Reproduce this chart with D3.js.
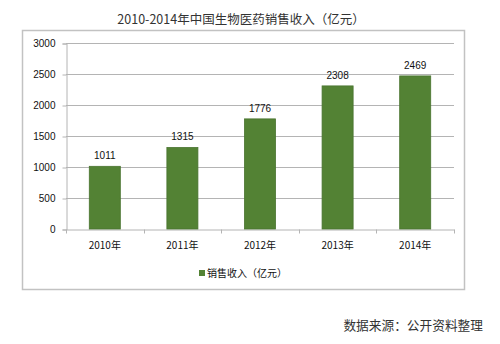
<!DOCTYPE html>
<html>
<head>
<meta charset="utf-8">
<script src="https://cdn.jsdelivr.net/npm/d3@7"></script>
<style>
  html, body { margin: 0; padding: 0; background: #fff; }
  svg { display: block; }
</style>
</head>
<body>
<svg id="chart" width="500" height="344"></svg>
<script>
// Biopharma sales revenue in China, 2010-2014 (100 million yuan)
const years = ["2010年", "2011年", "2012年", "2013年", "2014年"];
const revenue = [1011, 1315, 1776, 2308, 2469];
const yTicks = [0, 500, 1000, 1500, 2000, 2500, 3000];
const titleText = "2010-2014年中国生物医药销售收入（亿元）";
const legendText = "销售收入（亿元）";
const sourceText = "数据来源：公开资料整理";

const svg = d3.select("#chart");
const barColor = "#538234";
const gridColor = "#b4b4b4";
const latin = "'Liberation Sans', Arial, sans-serif";
const cjk = "'Noto Sans CJK SC', sans-serif";

// Outer chart frame
svg.append("rect")
  .attr("x", 22.5).attr("y", 30.5)
  .attr("width", 442).attr("height", 259)
  .attr("fill", "#fff")
  .attr("stroke", "#c2c2c2")
  .attr("stroke-width", 1.5);

// Title
svg.append("text")
  .attr("x", 241).attr("y", 24)
  .attr("text-anchor", "middle")
  .attr("font-family", cjk)
  .attr("font-size", 12.5)
  .attr("fill", "#333")
  .text(titleText);

const x = d3.scaleBand().domain(years).range([66, 454]).padding(0);
const y = d3.scaleLinear().domain([0, 3000]).range([229, 43]);

// Horizontal gridlines
svg.append("g")
  .selectAll("line")
  .data(yTicks.filter(d => d > 0))
  .join("line")
  .attr("x1", 66).attr("x2", 454)
  .attr("y1", d => Math.round(y(d)) + 0.5)
  .attr("y2", d => Math.round(y(d)) + 0.5)
  .attr("stroke", gridColor)
  .attr("stroke-width", 1);

// Y axis
const yAxis = svg.append("g")
  .attr("transform", "translate(66.5,0.5)")
  .call(d3.axisLeft(y).tickValues(yTicks).tickFormat(d3.format("d")).tickSize(4).tickPadding(7));
yAxis.select(".domain").attr("stroke", gridColor);
yAxis.selectAll(".tick line").attr("stroke", gridColor);
yAxis.selectAll(".tick text")
  .attr("font-family", latin)
  .attr("font-size", 10)
  .attr("fill", "#111");

// X axis with tick marks at category boundaries
const xAxis = svg.append("g")
  .attr("transform", "translate(0,229.5)")
  .call(d3.axisBottom(x).tickSize(0).tickPadding(12));
xAxis.select(".domain").attr("stroke", gridColor);
xAxis.selectAll(".tick text")
  .attr("font-family", cjk)
  .attr("font-size", 10)
  .attr("fill", "#111");
xAxis.selectAll("line.boundary")
  .data(d3.range(years.length + 1))
  .join("line")
  .attr("class", "boundary")
  .attr("x1", i => Math.round(66 + i * x.step()) + 0.5)
  .attr("x2", i => Math.round(66 + i * x.step()) + 0.5)
  .attr("y1", 0).attr("y2", 4)
  .attr("stroke", gridColor);

// Bars
const barW = x.step() * 0.4;
svg.append("g")
  .selectAll("rect")
  .data(revenue)
  .join("rect")
  .attr("x", (d, i) => x(years[i]) + (x.step() - barW) / 2)
  .attr("y", d => y(d))
  .attr("width", barW)
  .attr("height", d => y(0) - y(d))
  .attr("fill", barColor)
  .attr("stroke", "#4a7430")
  .attr("stroke-width", 0.8);

// Value labels
svg.append("g")
  .selectAll("text")
  .data(revenue)
  .join("text")
  .attr("x", (d, i) => x(years[i]) + x.step() / 2)
  .attr("y", d => y(d) - 7)
  .attr("text-anchor", "middle")
  .attr("font-family", latin)
  .attr("font-size", 10)
  .attr("fill", "#111")
  .text(d => d);

// Legend
const legend = svg.append("g").attr("transform", "translate(199,270)");
legend.append("rect")
  .attr("width", 6).attr("height", 6)
  .attr("fill", barColor);
legend.append("text")
  .attr("x", 8).attr("y", 6.5)
  .attr("font-family", cjk)
  .attr("font-size", 10)
  .attr("fill", "#111")
  .text(legendText);

// Source note
svg.append("text")
  .attr("x", 483).attr("y", 330)
  .attr("text-anchor", "end")
  .attr("font-family", cjk)
  .attr("font-size", 12.7)
  .attr("fill", "#333")
  .text(sourceText);
</script>
</body>
</html>
